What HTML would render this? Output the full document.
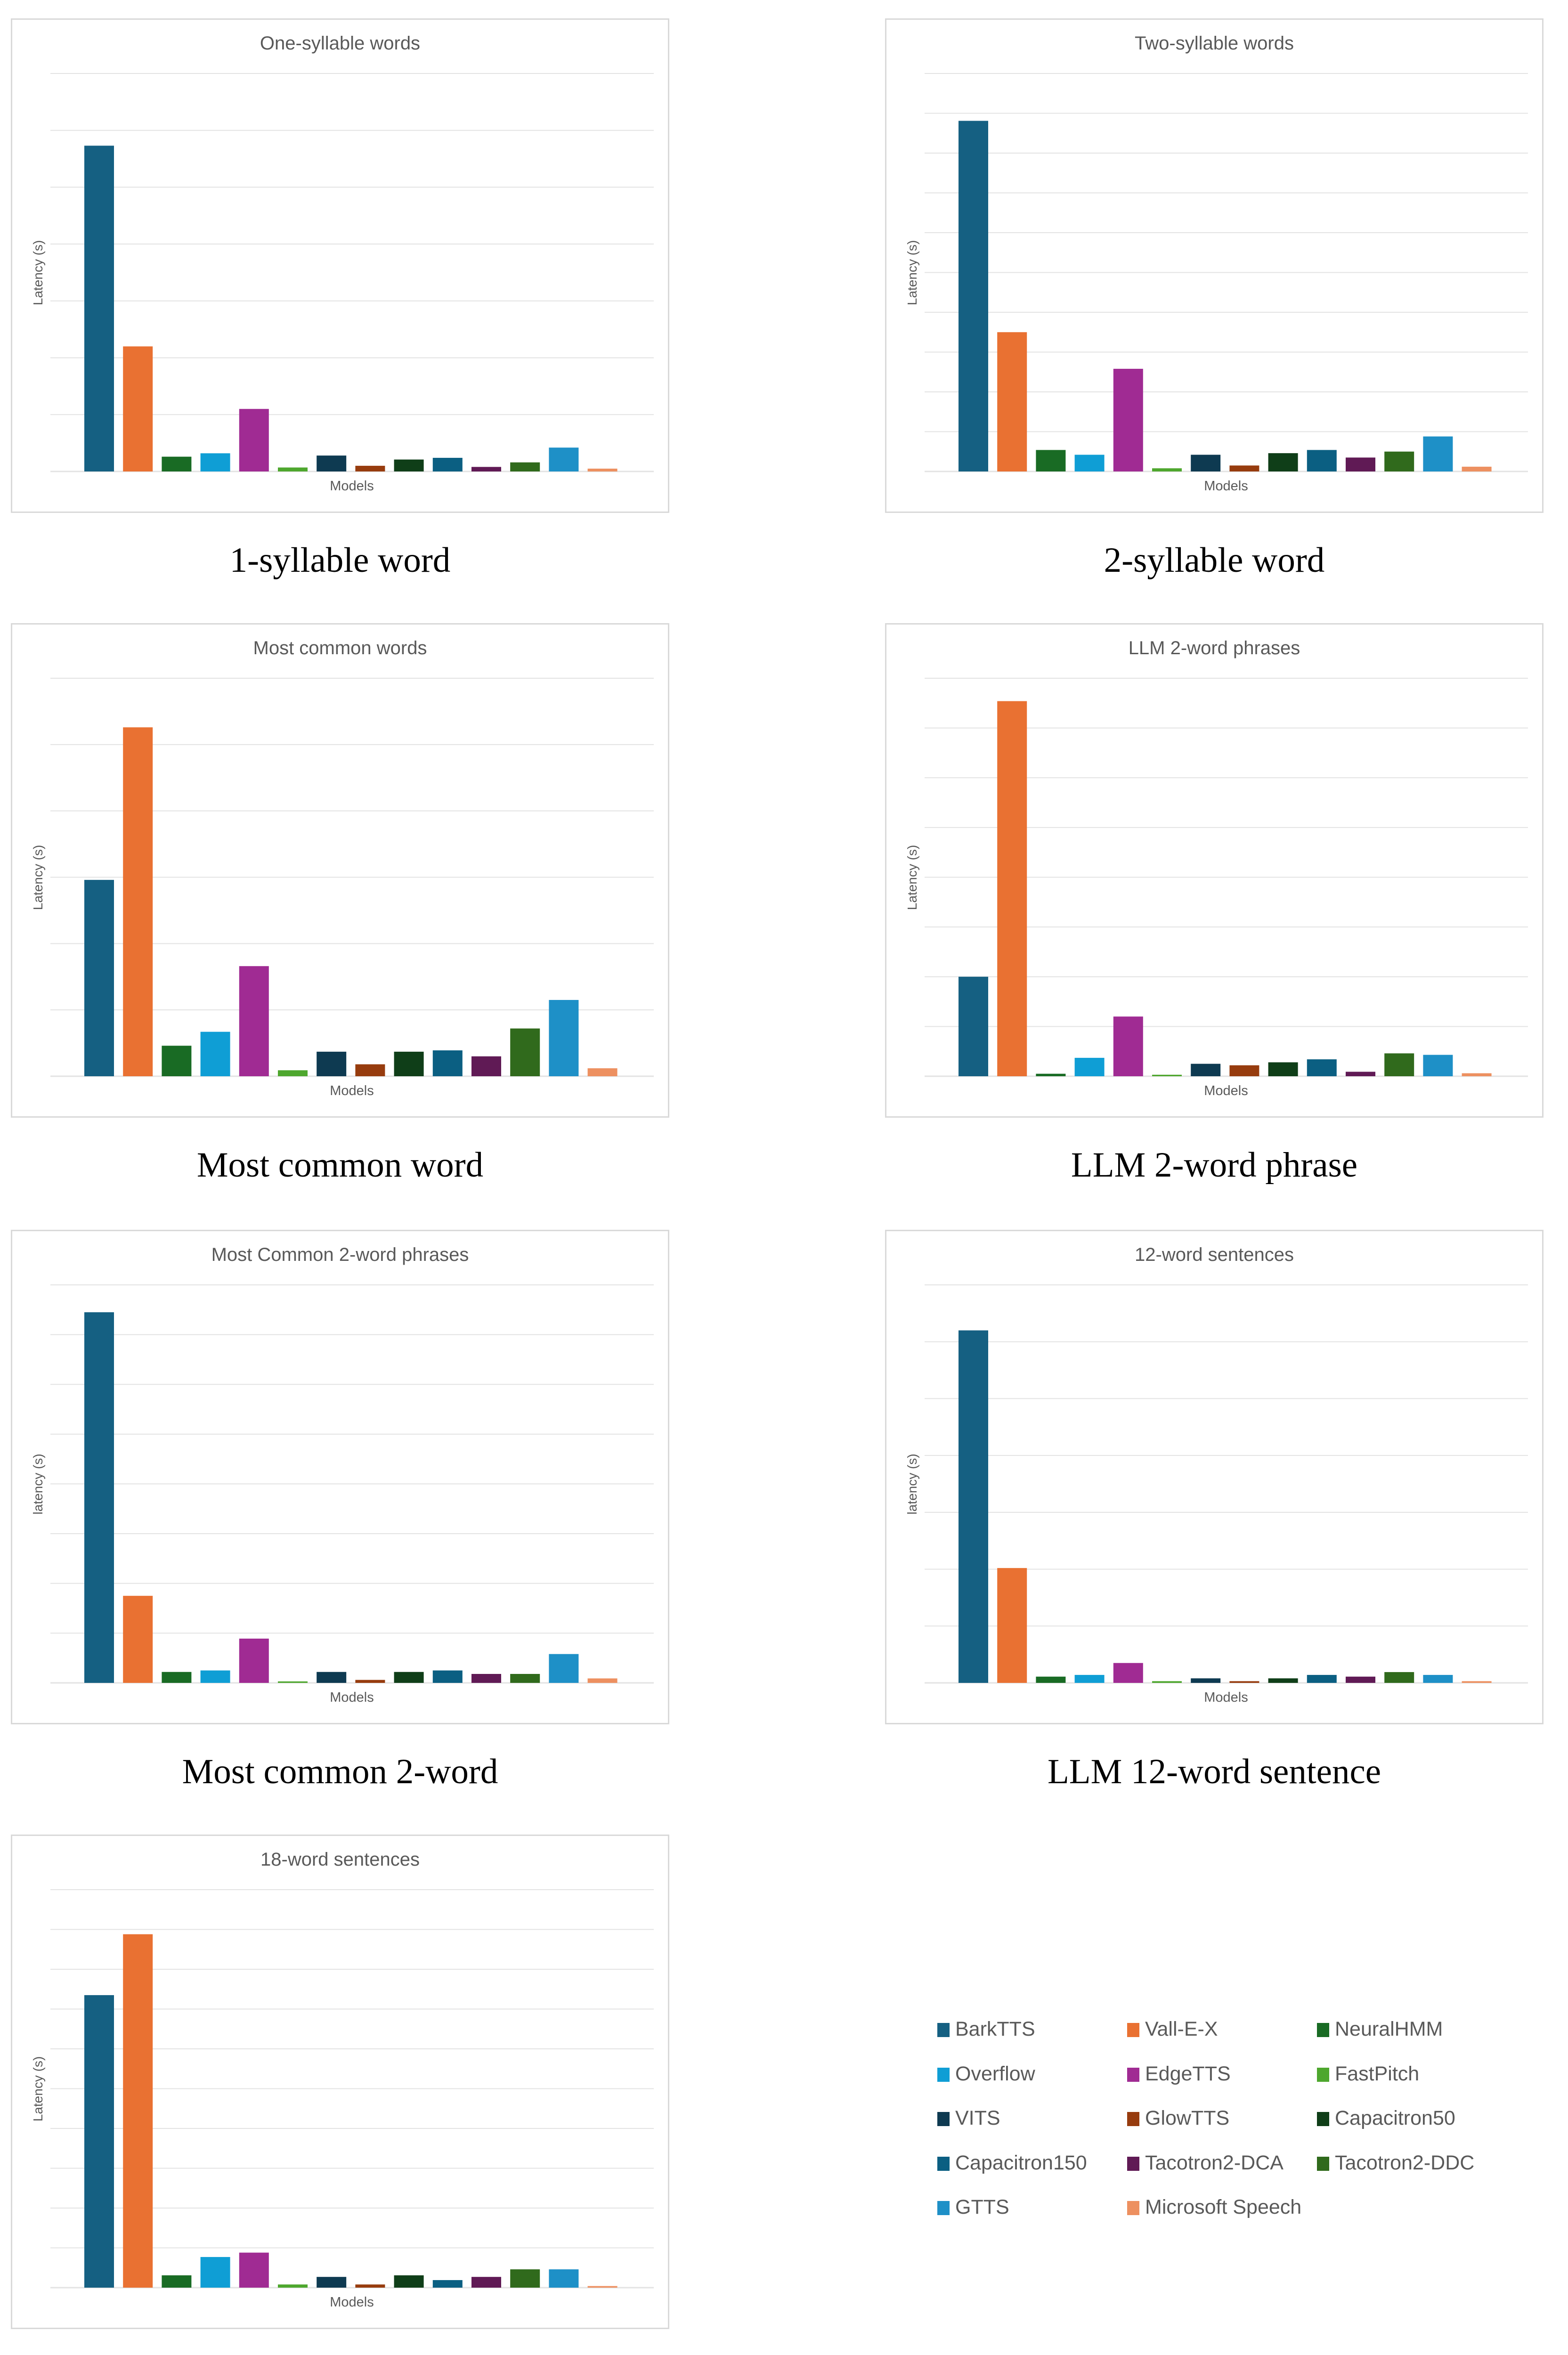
<!DOCTYPE html>
<html><head><meta charset="utf-8">
<style>
html{margin:0;padding:0;width:3329px;height:5116px;overflow:hidden;background:#fff;}
body{margin:0;padding:0;width:3329px;height:5116px;position:relative;overflow:hidden;background:#fff;font-family:"Liberation Sans",sans-serif;}
.box{position:absolute;width:1398px;height:1050px;border:3px solid #d9d9d9;box-sizing:border-box;background:#fff;}
.cap{position:absolute;width:1398px;text-align:center;font-family:"Liberation Serif",serif;font-size:75px;line-height:86px;height:86px;overflow:visible;color:#000;}
.leg{position:absolute;font-size:43px;line-height:50px;color:#595959;white-space:nowrap;}
.leg span{display:inline-block;width:26px;height:30px;margin-right:12px;vertical-align:-3px;}
</style></head>
<body>
<div id="root"></div>
<script>
const models = ["BarkTTS","Vall-E-X","NeuralHMM","Overflow","EdgeTTS","FastPitch","VITS","GlowTTS","Capacitron50","Capacitron150","Tacotron2-DCA","Tacotron2-DDC","GTTS","Microsoft Speech"];
const colors = ["#156082","#E97132","#196B24","#0F9ED5","#A02B93","#4EA72E","#0E3A51","#973C0E","#0F3E18","#0B5F82","#601A55","#306A1C","#1E90C7","#ED9060"];
const titles = ["One-syllable words","Two-syllable words","Most common words","LLM 2-word phrases","Most Common 2-word phrases","12-word sentences","18-word sentences"];
const captions = ["1-syllable word","2-syllable word","Most common word","LLM 2-word phrase","Most common 2-word","LLM 12-word sentence","LLM 18-word sentence"];
const yLabels = ["Latency (s)","Latency (s)","Latency (s)","Latency (s)","latency (s)","latency (s)","Latency (s)"];
const gridCounts = [7,10,6,8,8,7,10];
const values1 = [5.73,2.2,0.26,0.32,1.1,0.07,0.28,0.1,0.21,0.24,0.08,0.16,0.42,0.05];
const values2 = [8.81,3.5,0.54,0.42,2.58,0.08,0.42,0.15,0.46,0.54,0.35,0.5,0.88,0.12];
const values3 = [2.96,5.26,0.46,0.67,1.66,0.09,0.37,0.18,0.37,0.39,0.3,0.72,1.15,0.12];
const values4 = [2.0,7.54,0.05,0.37,1.2,0.03,0.25,0.22,0.28,0.34,0.09,0.46,0.43,0.06];
const values5 = [7.45,1.75,0.22,0.25,0.89,0.03,0.22,0.06,0.22,0.25,0.18,0.18,0.58,0.09];
const values6 = [6.2,2.02,0.11,0.14,0.35,0.03,0.08,0.03,0.08,0.14,0.11,0.19,0.14,0.03];
const values7 = [7.35,8.88,0.31,0.77,0.88,0.08,0.27,0.08,0.31,0.19,0.27,0.46,0.46,0.04];
const allValues = [values1,values2,values3,values4,values5,values6,values7];

const root = document.getElementById('root');
const NS = "http://www.w3.org/2000/svg";
const colX = [23,1879], rowY = [39,1323,2611,3895];
const W = 1398, H = 1050, pL = 84, pR = 1365, pT = 117, pB = 962;

allValues.forEach((vals, ci) => {
  const bx = colX[ci % 2], by = rowY[Math.floor(ci / 2)];
  const box = document.createElement('div');
  box.className = 'box';
  box.style.left = bx + 'px'; box.style.top = by + 'px';
  
  
  const svg = document.createElementNS(NS, 'svg');
  svg.setAttribute('width', W); svg.setAttribute('height', H);
  svg.style.position = 'absolute'; svg.style.left = '-3px'; svg.style.top = '-3px';
  const n = gridCounts[ci];
  const y = v => pB - v / n * (pB - pT);
  for (let g = 0; g <= n; g++) {
    const ln = document.createElementNS(NS, 'line');
    ln.setAttribute('x1', pL); ln.setAttribute('x2', pR);
    ln.setAttribute('y1', y(g)); ln.setAttribute('y2', y(g));
    ln.setAttribute('stroke', '#e3e3e3'); ln.setAttribute('stroke-width', g === 0 ? 3 : 2);
    
    
    svg.appendChild(ln);
  }
  const pitch = 82.2, bw = 63, x0 = 156;
  vals.forEach((v, i) => {
    const r = document.createElementNS(NS, 'rect');
    r.setAttribute('x', x0 + i * pitch); r.setAttribute('width', bw);
    r.setAttribute('y', y(v)); r.setAttribute('height', pB - y(v));
    r.setAttribute('fill', colors[i]);
    
    
    svg.appendChild(r);
  });
  const t = document.createElementNS(NS, 'text');
  t.setAttribute('x', 699); t.setAttribute('y', 66);
  t.setAttribute('text-anchor', 'middle'); t.setAttribute('font-size', '40');
  t.setAttribute('fill', '#595959'); t.setAttribute('font-family', 'Liberation Sans, sans-serif');
  t.textContent = titles[ci];
  
  
  svg.appendChild(t);
  const xl = document.createElementNS(NS, 'text');
  xl.setAttribute('x', 724); xl.setAttribute('y', 1002);
  xl.setAttribute('text-anchor', 'middle'); xl.setAttribute('font-size', '29');
  xl.setAttribute('fill', '#595959'); xl.setAttribute('font-family', 'Liberation Sans, sans-serif');
  xl.textContent = 'Models';
  
  
  svg.appendChild(xl);
  const yl = document.createElementNS(NS, 'text');
  yl.setAttribute('transform', 'translate(67,540) rotate(-90)');
  yl.setAttribute('text-anchor', 'middle'); yl.setAttribute('font-size', '28');
  yl.setAttribute('fill', '#595959'); yl.setAttribute('font-family', 'Liberation Sans, sans-serif');
  yl.textContent = yLabels[ci];
  
  
  svg.appendChild(yl);
  box.appendChild(svg);
  root.appendChild(box);
  const cap = document.createElement('div');
  cap.className = 'cap';
  cap.style.left = bx + 'px'; cap.style.top = (by + 1108) + 'px';
  cap.textContent = captions[ci];
  
  
  root.appendChild(cap);
});

const legX = [1990,2393,2796], legY0 = 4283, legDY = 94.5;
models.forEach((m, i) => {
  const d = document.createElement('div');
  d.className = 'leg';
  d.style.left = legX[i % 3] + 'px';
  d.style.top = (legY0 + Math.floor(i / 3) * legDY) + 'px';
  
  
  const s = document.createElement('span');
  s.style.background = colors[i];
  
  
  d.appendChild(s);
  d.appendChild(document.createTextNode(m));
  root.appendChild(d);
});
</script>
</body></html>
